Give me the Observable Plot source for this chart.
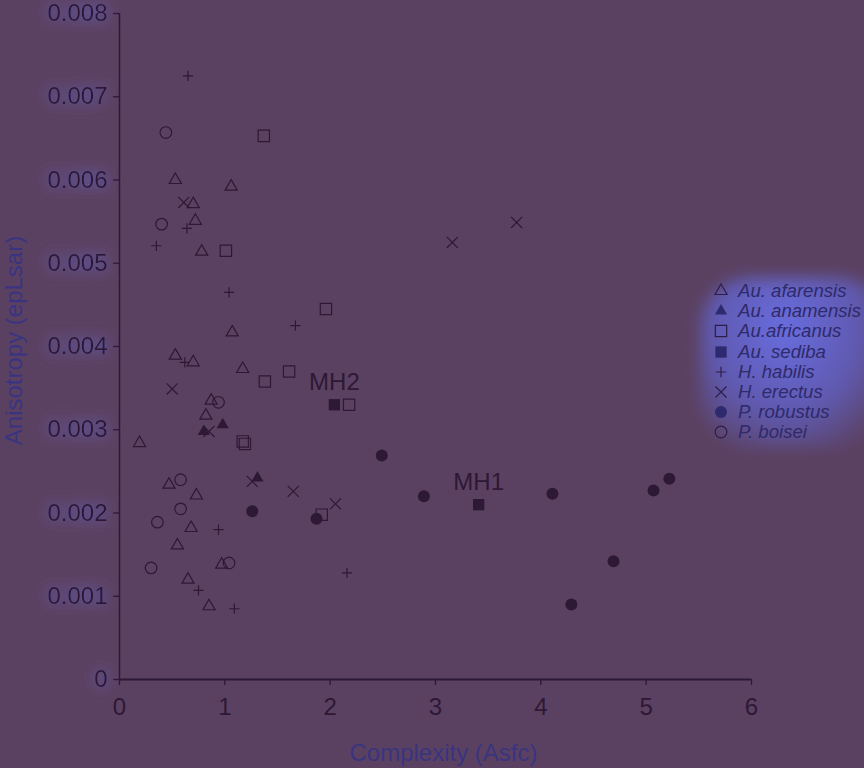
<!DOCTYPE html>
<html><head><meta charset="utf-8">
<script src="https://cdn.jsdelivr.net/npm/d3@7"></script>
<script src="https://cdn.jsdelivr.net/npm/@observablehq/plot@0.6"></script>
<style>
html,body{margin:0;padding:0;background:#5b4161;}
#wrap{position:relative;width:864px;height:768px;overflow:hidden;background:#5b4161;font-family:"Liberation Sans",Arial,sans-serif;}
#blob{position:absolute;left:700px;top:278px;width:190px;height:170px;border-radius:50px;
  background:radial-gradient(ellipse at 45% 30%, rgba(108,120,255,0.8) 0%, rgba(100,110,240,0.55) 50%, rgba(90,100,220,0) 85%);filter:blur(8px);}
#legend{position:absolute;left:712px;top:281px;font-style:italic;font-size:18.6px;color:#2f2a6a;}
#legend .row{display:flex;align-items:center;height:20.2px;white-space:nowrap;}
#legend svg{width:18px;height:20px;margin-right:8px;flex:none;}
#chart{position:absolute;left:0;top:0;}
</style></head><body>
<div id="wrap"><div id="blob"></div><div id="chart"></div><div id="legend"></div></div>
<script>
const ink = "#2d1836";
const xTicks = [0,1,2,3,4,5,6];
const yTicks = [0,0.001,0.002,0.003,0.004,0.005,0.006,0.007,0.008];
const xLabel = "Complexity (Asfc)";
const yLabel = "Anisotropy (epLsar)";

const speciesNames = ["Au. afarensis","Au. anamensis","Au.africanus","Au. sediba","H. habilis","H. erectus","P. robustus","P. boisei"];

const afarensisX = [0.53,1.06,0.70,0.72,0.78,1.07,0.53,0.70,1.17,0.87,0.82,0.19,0.47,0.73,0.68,0.55,0.97,0.65,0.85];
const afarensisY = [0.00600,0.00592,0.00571,0.00551,0.00514,0.00417,0.00389,0.00381,0.00373,0.00335,0.00317,0.00284,0.00234,0.00221,0.00182,0.00161,0.00138,0.00120,0.00088];
const anamensisX = [0.80,0.98,1.31];
const anamensisY = [0.00298,0.00306,0.00242];
const africanusX = [1.37,1.01,1.96,1.38,1.61,2.18,1.17,1.19,1.92];
const africanusY = [0.00653,0.00515,0.00445,0.00358,0.00370,0.00330,0.00286,0.00283,0.00198];
const sedibaX = [2.04,3.41];
const sedibaY = [0.00330,0.00210];
const sedibaLabels = ["MH2","MH1"];
const habilisX = [0.65,0.64,0.35,1.04,1.67,0.62,0.94,0.75,1.09,2.16];
const habilisY = [0.00725,0.00542,0.00521,0.00465,0.00425,0.00381,0.00180,0.00107,0.00085,0.00128];
const erectusX = [0.61,0.50,0.85,1.26,1.65,2.05,3.16,3.77];
const erectusY = [0.00573,0.00349,0.00298,0.00238,0.00226,0.00211,0.00525,0.00549];
const robustusX = [1.26,1.87,2.49,2.89,4.11,5.07,5.22,4.69,4.29];
const robustusY = [0.00202,0.00193,0.00269,0.00220,0.00223,0.00227,0.00241,0.00142,0.00090];
const boiseiX = [0.44,0.40,0.94,0.58,0.58,0.36,0.30,1.04];
const boiseiY = [0.00657,0.00547,0.00333,0.00240,0.00205,0.00189,0.00134,0.00140];

const pts = (X, Y, L) => X.map((x, i) => ({x, y: Y[i], label: L ? L[i] : null}));

// symbol styles per species (same order as speciesNames)
const styles = [
  {symbol: "triangle", r: 4.5, fill: "none", stroke: ink},
  {symbol: "triangle", r: 4.5, fill: ink, stroke: "none"},
  {symbol: "square", r: 6.4, fill: "none", stroke: ink},
  {symbol: "square", r: 6.4, fill: ink, stroke: "none"},
  {symbol: "plus", r: 3.4, fill: "none", stroke: ink},
  {symbol: "times", r: 5.1, fill: "none", stroke: ink},
  {symbol: "circle", r: 6, fill: ink, stroke: "none"},
  {symbol: "circle", r: 5.8, fill: "none", stroke: ink}
];
const datasets = [
  pts(afarensisX, afarensisY), pts(anamensisX, anamensisY), pts(africanusX, africanusY),
  pts(sedibaX, sedibaY, sedibaLabels), pts(habilisX, habilisY), pts(erectusX, erectusY),
  pts(robustusX, robustusY), pts(boiseiX, boiseiY)
];

const dotMarks = datasets.map((d, k) => Plot.dot(d, {
  x: "x", y: "y", symbol: styles[k].symbol, r: styles[k].r,
  fill: styles[k].fill, stroke: styles[k].stroke, strokeWidth: 1.2
}));

const svg = Plot.plot({
  width: 864, height: 768,
  marginLeft: 119, marginRight: 113, marginTop: 13, marginBottom: 89,
  style: {background: "transparent", fontFamily: "'Liberation Sans', Arial, sans-serif", fontSize: "24px", overflow: "visible"},
  x: {domain: [0, 6]},
  y: {domain: [0, 0.008]},
  marks: [
    Plot.axisX({ticks: xTicks, tickFormat: d => String(d), tickSize: 6, tickPadding: 12, color: ink, strokeWidth: 1.3, label: null}),
    Plot.axisY({ticks: yTicks, tickFormat: d => d === 0 ? "0" : d.toFixed(3), tickSize: 6, tickPadding: 6, color: ink, strokeWidth: 1.3, label: null}),
    Plot.ruleX([0], {stroke: ink, strokeWidth: 1.5}),
    Plot.ruleY([0], {stroke: ink, strokeWidth: 2}),
    ...dotMarks,
    Plot.text(datasets[3], {x: "x", y: "y", text: "label", dy: -22, fill: ink, fontSize: 24, ariaLabel: "mhlabel"}),
    Plot.text([yLabel], {frameAnchor: "left", textAnchor: "middle", text: d => d, rotate: -90, dx: -105, dy: -6, fill: "#3a3480", fontSize: 24, ariaLabel: "ylabel"}),
    Plot.text([xLabel], {frameAnchor: "bottom", text: d => d, dx: 8, dy: 81, fill: "#3a3480", fontSize: 24, ariaLabel: "xlabel"})
  ]
});

// glow filter
const s = d3.select(svg);
const defs = s.insert("defs", ":first-child");
const f = defs.append("filter").attr("id", "glow").attr("x", "-50%").attr("y", "-50%").attr("width", "200%").attr("height", "200%");
f.append("feGaussianBlur").attr("in", "SourceAlpha").attr("stdDeviation", 7).attr("result", "b");
f.append("feFlood").attr("flood-color", "#6c78ff").attr("flood-opacity", 0.75);
f.append("feComposite").attr("in2", "b").attr("operator", "in").attr("result", "g");
const m = f.append("feMerge");
m.append("feMergeNode").attr("in", "g");
m.append("feMergeNode").attr("in", "SourceGraphic");
s.selectAll('g[aria-label="ylabel"], g[aria-label="xlabel"], g[aria-label="mhlabel"], g[aria-label="y-axis tick label"]').attr("filter", "url(#glow)");

document.getElementById("chart").appendChild(svg);

// legend
const legend = d3.select("#legend");
const typeMap = {triangle: d3.symbolTriangle, square: d3.symbolSquare, plus: d3.symbolPlus, times: d3.symbolTimes, circle: d3.symbolCircle};
speciesNames.forEach((name, k) => {
  const st = styles[k];
  const row = legend.append("div").attr("class", "row");
  const sv = row.append("svg").attr("viewBox", "-9 -10 18 20");
  sv.append("path").attr("d", d3.symbol(typeMap[st.symbol], Math.PI * st.r * st.r)())
    .attr("fill", st.fill === "none" ? "none" : "#2e2a70")
    .attr("stroke", st.stroke === "none" ? "none" : "#2d1d4a").attr("stroke-width", 1.2);
  row.append("span").text(name);
});
</script>
</body></html>
